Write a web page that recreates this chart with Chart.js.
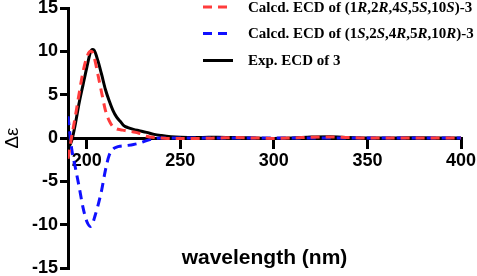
<!DOCTYPE html>
<html>
<head>
<meta charset="utf-8">
<script src="https://cdn.jsdelivr.net/npm/chart.js@4.4.1/dist/chart.umd.min.js"></script>
<style>
  html, body { margin: 0; padding: 0; background: #fff; }
  canvas { display: block; }
</style>
</head>
<body>
<canvas id="ecdChart" width="477" height="276"></canvas>
<script>
// wavelength (nm) and Δε values
const wavelengths = [190, 192, 194, 196, 198, 200, 202, 203, 204, 206, 208, 210, 212, 214, 216, 218, 220, 222, 225, 228, 232, 236, 240, 245, 250, 260, 270, 280, 290, 300, 310, 320, 330, 340, 350, 360, 370, 380, 390, 400];
const calcRR = [-2.4, 0.2, 2.6, 5.2, 7.6, 9.3, 10.0, 9.9, 9.3, 7.3, 5.2, 3.2, 2.0, 1.3, 1.05, 0.95, 0.88, 0.8, 0.7, 0.55, 0.2, 0.05, 0.0, -0.05, -0.05, -0.05, 0.0, 0.05, 0.0, -0.05, 0.0, 0.1, 0.12, 0.05, 0.0, 0.0, 0.0, 0.0, 0.0, 0.0];
const calcSS = [2.5, -1.3, -3.5, -5.7, -8.0, -9.6, -10.2, -10.0, -9.3, -7.8, -6.0, -3.7, -2.0, -1.3, -1.05, -0.95, -0.9, -0.85, -0.75, -0.6, -0.3, -0.08, 0.0, 0.0, 0.0, 0.0, 0.0, 0.0, 0.0, 0.0, 0.0, 0.0, 0.0, 0.0, 0.0, 0.0, 0.0, 0.0, 0.0, 0.0];
const expECD = [-1.2, -0.3, 1.7, 4.1, 6.1, 8.1, 9.9, 10.2, 10.1, 8.9, 7.3, 5.6, 4.3, 3.2, 2.4, 1.9, 1.4, 1.2, 1.0, 0.85, 0.65, 0.42, 0.28, 0.15, 0.08, 0.05, 0.1, 0.05, 0.0, -0.05, 0.0, 0.12, 0.15, 0.05, 0.0, 0.0, 0.02, 0.02, 0.0, 0.0];
const xTicks = [200, 250, 300, 350, 400];
const yTicks = [-15, -10, -5, 0, 5, 10, 15];

const redColor = '#ff3c3c';
const blueColor = '#1010ff';

function toPoints(values) {
    return wavelengths.map((w, i) => ({ x: w, y: values[i] }));
}

// legend labels: [text, italic] pieces
const legendRows = [
    { color: redColor, dash: [9, 6], parts: [['Calcd. ECD of (1', false], ['R', true], [',2', false], ['R', true], [',4', false], ['S', true], [',5', false], ['S', true], [',10', false], ['S', true], [')-3', false]] },
    { color: blueColor, dash: [9, 6], parts: [['Calcd. ECD of (1', false], ['S', true], [',2', false], ['S', true], [',4', false], ['R', true], [',5', false], ['R', true], [',10', false], ['R', true], [')-3', false]] },
    { color: '#000', dash: [], parts: [['Exp. ECD of 3', false]] }
];

const legendPlugin = {
    id: 'ecdLegend',
    afterDraw(chart) {
        const ctx = chart.ctx;
        const rowY = [7, 33.5, 60.5];
        ctx.save();
        legendRows.forEach((row, i) => {
            const y = rowY[i];
            ctx.strokeStyle = row.color;
            ctx.lineWidth = 3;
            ctx.setLineDash(row.dash);
            ctx.beginPath();
            ctx.moveTo(203, y);
            ctx.lineTo(row.dash.length ? 229 : 233, y);
            ctx.stroke();
            ctx.setLineDash([]);
            let x = 248;
            ctx.fillStyle = '#000';
            ctx.textBaseline = 'middle';
            row.parts.forEach(p => {
                ctx.font = (p[1] ? 'italic ' : '') + 'bold 15px "Liberation Serif", "Times New Roman", serif';
                ctx.fillText(p[0], x, y + 1);
                x += ctx.measureText(p[0]).width;
            });
        });
        ctx.restore();
    }
};

new Chart(document.getElementById('ecdChart'), {
    type: 'line',
    data: {
        datasets: [
            { label: 'Calcd. ECD of (1R,2R,4S,5S,10S)-3', data: toPoints(calcRR), borderColor: redColor, borderDash: [9, 6], borderWidth: 3, pointRadius: 0, cubicInterpolationMode: 'monotone', fill: false },
            { label: 'Calcd. ECD of (1S,2S,4R,5R,10R)-3', data: toPoints(calcSS), borderColor: blueColor, borderDash: [9, 6], borderWidth: 3, pointRadius: 0, cubicInterpolationMode: 'monotone', fill: false },
            { label: 'Exp. ECD of 3', data: toPoints(expECD), borderColor: '#000', borderWidth: 3, pointRadius: 0, cubicInterpolationMode: 'monotone', fill: false }
        ]
    },
    options: {
        responsive: false,
        animation: false,
        devicePixelRatio: 1,
        layout: { padding: { top: 8, right: 16, bottom: 8, left: 0 } },
        plugins: { legend: { display: false }, tooltip: { enabled: false } },
        scales: {
            x: {
                type: 'linear',
                min: 190,
                max: 400,
                position: { y: 0 },
                afterBuildTicks: scale => { scale.ticks = xTicks.map(v => ({ value: v })); },
                afterFit: scale => { scale.paddingLeft = 0; scale.paddingRight = 0; },
                grid: { drawOnChartArea: false, drawTicks: true, tickLength: 9, color: '#000', lineWidth: 3 },
                border: { color: '#000', width: 3 },
                ticks: { color: '#000', padding: 3, maxRotation: 0, font: { family: '"Liberation Sans", Arial, sans-serif', size: 18, weight: 'bold' } },
                title: { display: true, text: 'wavelength (nm)', color: '#000', padding: { top: 72, bottom: -3 }, font: { family: '"Liberation Sans", Arial, sans-serif', size: 21, weight: 'bold' } }
            },
            y: {
                min: -15,
                max: 15,
                afterBuildTicks: scale => { scale.ticks = yTicks.map(v => ({ value: v })); },
                afterFit: scale => { scale.width = 68; scale.paddingTop = 0; scale.paddingBottom = 0; },
                grid: { drawOnChartArea: false, drawTicks: true, tickLength: 8, color: '#000', lineWidth: 3 },
                border: { color: '#000', width: 3 },
                ticks: { color: '#000', padding: 2, font: { family: '"Liberation Sans", Arial, sans-serif', size: 18, weight: 'bold' } },
                title: { display: true, text: 'Δε', color: '#000', padding: { top: 1, bottom: 0 }, font: { family: '"Liberation Sans", Arial, sans-serif', size: 19 } }
            }
        }
    },
    plugins: [legendPlugin]
});
</script>
</body>
</html>
